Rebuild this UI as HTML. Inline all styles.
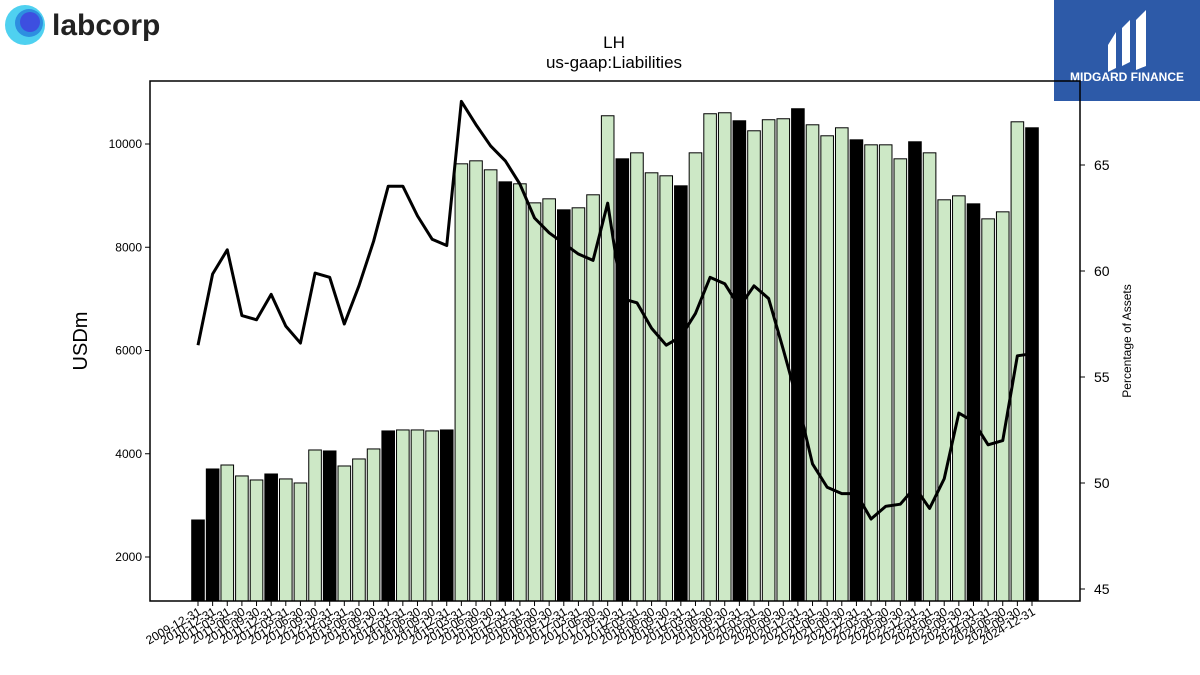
<!DOCTYPE html>
<html><head><meta charset="utf-8"><style>
body{margin:0;background:#fff;}
svg{display:block;font-family:"Liberation Sans","DejaVu Sans",sans-serif;}
</style></head><body>
<svg id="chart" width="1200" height="675" viewBox="0 0 1200 675">
<g>
<circle cx="25" cy="25" r="20" fill="#4fd1f0"/>
<circle cx="29" cy="23" r="14" fill="#2d8fe0"/>
<circle cx="30" cy="22" r="10" fill="#3d4fe0"/>
<text x="52" y="35" font-size="30" font-weight="bold" fill="#222">labcorp</text>
</g>
<g>
<rect x="1054" y="0" width="146" height="101" fill="#2d5aa8"/>
<path d="M1108 45 L1116 32 L1116 68 L1108 72 Z M1122 28 L1130 20 L1130 62 L1122 66 Z M1136 20 L1146 10 L1146 66 L1136 70 Z" fill="#fff"/>
<text x="1127" y="81" font-size="12" font-weight="bold" fill="#fff" text-anchor="middle">MIDGARD FINANCE</text>
</g>
<text x="614" y="48" font-size="17" text-anchor="middle">LH</text>
<text x="614" y="68" font-size="17" text-anchor="middle">us-gaap:Liabilities</text>
<text transform="translate(87,341) rotate(-90)" font-size="20" text-anchor="middle">USDm</text>
<text transform="translate(1131,341) rotate(-90)" font-size="12" text-anchor="middle">Percentage of Assets</text>
<g id="bars"></g><g id="line"></g><g id="axes"></g>
<rect x="150" y="81" width="930" height="520" fill="none" stroke="#000" stroke-width="1.5"/>
</svg>
<script>
const dates=["2009-12-31","2010-12-31"];
for(let y=2011;y<=2024;y++){for(const q of ["03-31","06-30","09-30","12-31"])dates.push(y+"-"+q);}
const liabilities=[2717,3705,3782,3570,3492,3608,3512,3434,4073,4054,3763,3899,4093,4442,4461,4461,4442,4461,9616,9674,9500,9267,9229,8860,8938,8725,8764,9016,10547,9713,9829,9442,9384,9190,9829,10586,10605,10450,10256,10470,10489,10683,10372,10159,10314,10081,9984,9984,9713,10043,9829,8919,8996,8841,8550,8686,10430,10314];
const pctAssets=[56.5,59.86,61.0,57.9,57.7,58.9,57.4,56.6,59.9,59.7,57.5,59.3,61.4,64.0,64.0,62.6,61.5,61.2,68.0,66.9,65.9,65.2,64.1,62.5,61.8,61.3,60.8,60.5,63.2,58.7,58.5,57.3,56.5,56.9,58.0,59.7,59.4,58.3,59.3,58.7,56.3,53.8,50.9,49.8,49.5,49.5,48.3,48.9,49.0,49.8,48.8,50.2,53.3,52.9,51.8,52.0,56.0,56.1];
const leftTicks=[2000,4000,6000,8000,10000];
const rightTicks=[45,50,55,60,65];
const NS="http://www.w3.org/2000/svg";
const xS=i=>198+i*(1032-198)/57;
const yL=v=>557-(v-2000)*(413/8000);
const yR=p=>589-(p-45)*21.2;
function mk(t,a,parent){const e=document.createElementNS(NS,t);for(const k in a)e.setAttribute(k,a[k]);parent.appendChild(e);return e;}
const bars=document.getElementById('bars'),line=document.getElementById('line'),axes=document.getElementById('axes');
liabilities.forEach((v,i)=>{
 const black=dates[i].endsWith("12-31");
 const r=mk('rect',{x:xS(i)-6.3,y:yL(v),width:12.6,height:601-yL(v),fill:black?'#000':'#cde8c6',stroke:'#000','stroke-width':1},bars);
 
 
});
const pl=mk('polyline',{points:pctAssets.map((p,i)=>xS(i)+','+yR(p)).join(' '),fill:'none',stroke:'#000','stroke-width':3,'stroke-linejoin':'round'},line);


dates.forEach((d,i)=>{
 mk('line',{x1:xS(i),x2:xS(i),y1:601,y2:606,stroke:'#000'},axes);
 const t=mk('text',{transform:`translate(${xS(i)+4},${614}) rotate(-30)`,'font-size':12,'text-anchor':'end'},axes);
 t.textContent=d;
 
 
});
leftTicks.forEach(v=>{
 mk('line',{x1:145,x2:150,y1:yL(v),y2:yL(v),stroke:'#000'},axes);
 const t=mk('text',{x:142,y:yL(v)+4,'font-size':12,'text-anchor':'end'},axes);
 t.textContent=v;
 
 
});
rightTicks.forEach(v=>{
 mk('line',{x1:1080,x2:1085,y1:yR(v),y2:yR(v),stroke:'#000'},axes);
 const t=mk('text',{x:1094,y:yR(v)+5,'font-size':14},axes);
 t.textContent=v;
 
 
});
</script>
</body></html>
